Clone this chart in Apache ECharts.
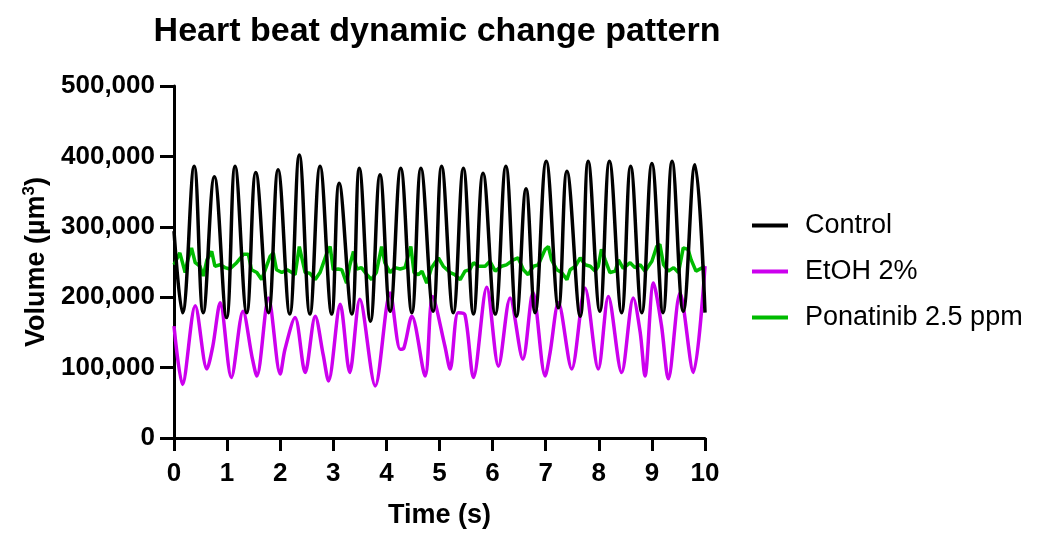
<!DOCTYPE html>
<html>
<head>
<meta charset="utf-8">
<script src="https://cdn.jsdelivr.net/npm/echarts@6/dist/echarts.min.js"></script>
<style>
  html, body { margin: 0; padding: 0; background: #fff; }
  #chart { width: 1054px; height: 534px; }
</style>
</head>
<body>
<div id="chart"></div>
<script>
// Control
const controlTime = [0, 0.16, 0.38, 0.55, 0.76, 0.99, 1.15, 1.37, 1.54, 1.78, 1.96, 2.18, 2.36, 2.56, 2.75, 2.97, 3.11, 3.35, 3.49, 3.70,
  3.88, 4.07, 4.27, 4.48, 4.65, 4.88, 5.04, 5.26, 5.45, 5.64, 5.82, 6.05, 6.25, 6.45, 6.63, 6.80, 7.01, 7.24, 7.40, 7.65,
  7.80, 8.02, 8.20, 8.43, 8.60, 8.81, 9.00, 9.21, 9.38, 9.59, 9.81, 10.0];
const controlVolume = [294000, 178000, 386000, 178000, 371000, 171000, 386000, 178000, 377000, 178000, 381000, 176000, 402000, 176000, 386000, 176000, 362000, 176000, 383000, 166000,
  374000, 180000, 383000, 178000, 383000, 180000, 386000, 178000, 383000, 176000, 376000, 176000, 386000, 173000, 354000, 178000, 393000, 185000, 379000, 173000,
  393000, 180000, 393000, 178000, 386000, 178000, 390000, 178000, 393000, 180000, 388000, 178000];

// EtOH 2%
const etohTime = [0, 0.16, 0.40, 0.62, 0.73, 0.87, 1.08, 1.30, 1.47, 1.56, 1.78, 2.00, 2.09, 2.28, 2.47, 2.66, 2.81, 2.91, 3.13, 3.31,
  3.50, 3.79, 4.07, 4.26, 4.33, 4.48, 4.73, 4.87, 5.10, 5.20, 5.35, 5.48, 5.64, 5.89, 6.11, 6.33, 6.57, 6.76, 6.99, 7.08,
  7.24, 7.49, 7.74, 7.99, 8.18, 8.43, 8.65, 8.78, 8.87, 9.03, 9.18, 9.31, 9.53, 9.78, 10.0];
const etohVolume = [159000, 76000, 188000, 98000, 130000, 192000, 86000, 180000, 115000, 88000, 199000, 91000, 126000, 171000, 93000, 173000, 118000, 81000, 190000, 93000,
  197000, 74000, 206000, 126000, 128000, 173000, 88000, 201000, 131000, 98000, 178000, 175000, 86000, 214000, 102000, 199000, 112000, 207000, 88000, 120000,
  192000, 98000, 213000, 98000, 201000, 93000, 199000, 150000, 88000, 220000, 160000, 84000, 206000, 93000, 244000];

// Ponatinib 2.5 ppm
const ponaTime = [0, 0.11, 0.21, 0.26, 0.33, 0.40, 0.49, 0.55, 0.62, 0.71, 0.77, 0.87, 0.96, 1.05, 1.18, 1.31, 1.40, 1.46, 1.56, 1.65,
  1.81, 1.87, 1.93, 2.03, 2.13, 2.22, 2.28, 2.36, 2.47, 2.56, 2.66, 2.75, 2.88, 2.94, 3.00, 3.09, 3.16, 3.25, 3.31, 3.38,
  3.44, 3.53, 3.60, 3.72, 3.81, 3.91, 3.97, 4.07, 4.16, 4.26, 4.35, 4.46, 4.52, 4.60, 4.67, 4.76, 4.85, 4.98, 5.07, 5.20,
  5.29, 5.39, 5.48, 5.57, 5.64, 5.73, 5.86, 5.95, 6.05, 6.17, 6.26, 6.39, 6.48, 6.58, 6.67, 6.77, 6.86, 6.99, 7.05, 7.11,
  7.21, 7.30, 7.40, 7.46, 7.56, 7.65, 7.74, 7.84, 7.93, 7.99, 8.05, 8.12, 8.21, 8.31, 8.37, 8.46, 8.59, 8.68, 8.78, 8.87,
  9.00, 9.09, 9.15, 9.22, 9.31, 9.41, 9.50, 9.59, 9.68, 9.74, 9.83, 10.0];
const ponaVolume = [246000, 263000, 235000, 253000, 270000, 249000, 244000, 230000, 253000, 265000, 244000, 246000, 242000, 240000, 249000, 261000, 261000, 239000, 235000, 225000,
  258000, 263000, 239000, 235000, 239000, 235000, 232000, 272000, 235000, 234000, 225000, 235000, 263000, 272000, 239000, 240000, 239000, 220000, 245000, 265000,
  240000, 242000, 235000, 225000, 235000, 272000, 249000, 235000, 242000, 240000, 242000, 272000, 235000, 232000, 237000, 220000, 242000, 256000, 244000, 235000,
  232000, 225000, 237000, 239000, 249000, 244000, 244000, 251000, 237000, 244000, 246000, 253000, 256000, 239000, 232000, 244000, 246000, 268000, 272000, 253000,
  239000, 235000, 225000, 239000, 244000, 256000, 246000, 244000, 237000, 244000, 268000, 253000, 235000, 237000, 253000, 241000, 249000, 242000, 246000, 237000,
  251000, 272000, 275000, 246000, 237000, 242000, 235000, 270000, 268000, 253000, 237000, 244000];

const seriesNames = ['Control', 'EtOH 2%', 'Ponatinib 2.5 ppm'];
const seriesColors = ['#000000', '#cc00ee', '#00bb00'];

const FONT = 'Liberation Sans, Arial, Helvetica, sans-serif';
const pairs = (xs, ys) => xs.map((x, i) => [x, ys[i]]);

const chart = echarts.init(document.getElementById('chart'), null, { renderer: 'canvas' });
chart.setOption({
  animation: false,
  backgroundColor: '#ffffff',
  title: {
    text: 'Heart beat dynamic change pattern',
    left: 432,
    textAlign: 'center',
    top: 10,
    textStyle: { fontFamily: FONT, fontSize: 34, fontWeight: 'bold', color: '#000' }
  },
  legend: {
    orient: 'vertical',
    left: 747,
    top: 207,
    icon: 'rect',
    itemWidth: 36,
    itemHeight: 4,
    itemGap: 19,
    data: seriesNames,
    textStyle: { fontFamily: FONT, fontSize: 27, color: '#000', padding: [0, 0, 0, 12] }
  },
  grid: { left: 174, right: 349, top: 86, bottom: 95, containLabel: false },
  xAxis: {
    type: 'value',
    min: 0,
    max: 10,
    interval: 1,
    name: 'Time (s)',
    nameLocation: 'middle',
    nameGap: 64,
    nameTextStyle: { fontFamily: FONT, fontSize: 27, fontWeight: 'bold', color: '#000' },
    axisLine: { show: true, onZero: false, lineStyle: { color: '#000', width: 3 } },
    axisTick: { show: true, length: 13, lineStyle: { color: '#000', width: 3 } },
    axisLabel: { margin: 23, fontFamily: FONT, fontSize: 26, fontWeight: 'bold', color: '#000' },
    splitLine: { show: false }
  },
  yAxis: {
    type: 'value',
    min: 0,
    max: 500000,
    interval: 100000,
    name: 'Volume (µm{sup|3})',
    nameLocation: 'middle',
    nameGap: 113,
    nameRotate: 90,
    nameTextStyle: {
      fontFamily: FONT, fontSize: 27, fontWeight: 'bold', color: '#000',
      rich: {
        sup: { fontFamily: FONT, fontSize: 17, fontWeight: 'bold', color: '#000', verticalAlign: 'top', padding: [0, 0, 14, 0] }
      }
    },
    axisLine: { show: true, lineStyle: { color: '#000', width: 3 } },
    axisTick: { show: true, length: 14, lineStyle: { color: '#000', width: 3 } },
    axisLabel: {
      margin: 19, fontFamily: FONT, fontSize: 26, fontWeight: 'bold', color: '#000',
      formatter: (v) => v.toLocaleString('en-US')
    },
    splitLine: { show: false }
  },
  series: [
    {
      name: seriesNames[0],
      type: 'line',
      data: pairs(controlTime, controlVolume),
      smooth: 0.4,
      showSymbol: false,
      lineStyle: { color: seriesColors[0], width: 3.5 },
      itemStyle: { color: seriesColors[0] },
      z: 3
    },
    {
      name: seriesNames[1],
      type: 'line',
      data: pairs(etohTime, etohVolume),
      smooth: 0.3,
      showSymbol: false,
      lineStyle: { color: seriesColors[1], width: 3.5 },
      itemStyle: { color: seriesColors[1] },
      z: 2
    },
    {
      name: seriesNames[2],
      type: 'line',
      data: pairs(ponaTime, ponaVolume),
      smooth: false,
      showSymbol: false,
      lineStyle: { color: seriesColors[2], width: 3.5 },
      itemStyle: { color: seriesColors[2] },
      z: 1
    }
  ]
});
</script>
</body>
</html>
